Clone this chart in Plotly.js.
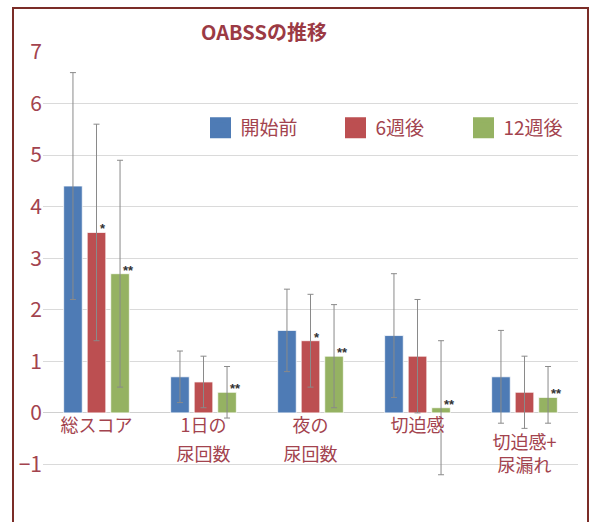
<!DOCTYPE html>
<html><head><meta charset="utf-8">
<script src="https://cdn.plot.ly/plotly-3.0.1.min.js"></script>
<style>html,body{margin:0;padding:0;background:#fff}#chart{width:596px;height:522px}</style>
</head><body><div id="chart"></div>
<script>
// ---- data ----
const categories = ['総スコア', '1日の尿回数', '夜の尿回数', '切迫感', '切迫感+尿漏れ'];
const labelLine1 = ['総スコア', '1日の', '夜の', '切迫感', ''];
const labelLine2 = ['', '尿回数', '尿回数', '', ''];
const labelStaggered = ['', '', '', '', '切迫感+<br>尿漏れ'];
const seriesNames = ['開始前', '6週後', '12週後'];
const baseline = [4.4, 0.7, 1.6, 1.5, 0.7];
const week6 = [3.5, 0.6, 1.4, 1.1, 0.4];
const week12 = [2.7, 0.4, 1.1, 0.1, 0.3];
const baselineErrPlus = [2.2, 0.5, 0.8, 1.2, 0.9];
const baselineErrMinus = [2.2, 0.5, 0.8, 1.2, 0.9];
const week6ErrPlus = [2.1, 0.5, 0.9, 1.1, 0.7];
const week6ErrMinus = [2.1, 0.5, 0.9, 1.1, 0.7];
const week12ErrPlus = [2.2, 0.5, 1.0, 1.3, 0.6];
const week12ErrMinus = [2.2, 0.5, 1.0, 1.3, 0.5];
const baselineSig = ['', '', '', '', ''];
const week6Sig = ['*', '', '*', '', ''];
const week12Sig = ['**', '**', '**', '**', '**'];
const yTickVals = [-2, -1, 0, 1, 2, 3, 4, 5, 6, 7];
const yTickText = ['', '−1', '0', '1', '2', '3', '4', '5', '6', '7'];

// ---- style ----
const W = 596, H = 522;
const M = {l: 43, r: 18, t: 52, b: 6};
const plotW = W - M.l - M.r, plotH = H - M.t - M.b;
const yMin = -2, yMax = 7;
const colors = ['#4e7bb5', '#bc4f51', '#95b262'];
const labelColor = '#a3434e';
const jp = '"Noto Sans CJK JP", sans-serif';
const tickFamily = '"Liberation Sans Narrow", "Noto Sans CJK JP", sans-serif';
const bargap = 0.34, bargroupgap = 0.21;

const values = [baseline, week6, week12];
const errPlus = [baselineErrPlus, week6ErrPlus, week12ErrPlus];
const errMinus = [baselineErrMinus, week6ErrMinus, week12ErrMinus];
const sigs = [baselineSig, week6Sig, week12Sig];

const traces = [];
values.forEach((vals, i) => {
  traces.push({
    type: 'bar', x: categories, y: vals, name: seriesNames[i], showlegend: false,
    marker: {color: colors[i], line: {color: 'rgba(255,255,255,0.75)', width: 1}},
    error_y: {type: 'data', symmetric: false, array: errPlus[i], arrayminus: errMinus[i],
              color: '#8a8a8a', thickness: 1, width: 3},
    hoverinfo: 'skip'
  });
});
// legend entries
const legendWidths = [90, 83, 64];
values.forEach((vals, i) => {
  traces.push({
    type: 'scatter', mode: 'markers', x: [null], y: [null], name: seriesNames[i],
    legendwidth: legendWidths[i],
    marker: {symbol: 'square', size: 16, color: colors[i], line: {color: colors[i], width: 5}},
    hoverinfo: 'skip', showlegend: true
  });
});
// empty carriers so that the extra label axes are drawn
['x2', 'x3'].forEach(ax => {
  traces.push({type: 'scatter', mode: 'markers', x: [null], y: [null], xaxis: ax, yaxis: 'y',
               showlegend: false, hoverinfo: 'skip'});
});

// significance marks
const catW = plotW / categories.length;
const slot = catW * (1 - bargap) / 3;
const annotations = [];
sigs.forEach((arr, i) => {
  arr.forEach((s, j) => {
    if (!s) return;
    annotations.push({
      x: categories[j], y: values[i][j], xref: 'x', yref: 'y', text: s, showarrow: false,
      xanchor: 'left', yanchor: 'bottom', xshift: (i - 1) * slot + 1, yshift: -6,
      font: {family: '"Liberation Sans", sans-serif', size: 13, color: '#333', weight: 'bold'}
    });
  });
});

const px2x = p => (p - M.l) / plotW;
const px2y = p => (H - M.b - p) / plotH;
const zeroPos = (0 - yMin) / (yMax - yMin);
const catIdx = categories.map((c, i) => i);
const labelAxis = (ticktext, drop) => ({
  type: 'linear', overlaying: 'x', anchor: 'free', position: zeroPos - drop / plotH,
  range: [-0.5, categories.length - 0.5], tickmode: 'array', tickvals: catIdx, ticktext: ticktext,
  showgrid: false, showline: false, zeroline: false, ticks: '',
  tickfont: {family: jp, size: 18, color: labelColor}, fixedrange: true
});

const layout = {
  width: W, height: H, margin: M,
  paper_bgcolor: '#fff', plot_bgcolor: '#fff',
  barmode: 'group', bargap: bargap, bargroupgap: bargroupgap,
  title: {text: 'OABSSの推移', font: {family: jp, size: 20, color: '#9b3a44', weight: 'bold'},
          x: px2x(264), xref: 'paper', xanchor: 'center', y: 1 - 33 / H, yref: 'container', yanchor: 'middle'},
  showlegend: true,
  legend: {orientation: 'h', x: px2x(200.5), xanchor: 'left', y: px2y(128), yanchor: 'middle',
           font: {family: jp, size: 19, color: labelColor}, bgcolor: 'rgba(0,0,0,0)',
           borderwidth: 0, itemclick: false, itemdoubleclick: false},
  xaxis: {type: 'category', anchor: 'free', position: zeroPos,
          range: [-0.5, categories.length - 0.5], tickmode: 'array', tickvals: categories, ticktext: labelLine1,
          showgrid: false, showline: false, zeroline: false,
          ticks: '', tickfont: {family: jp, size: 18, color: labelColor}, fixedrange: true},
  xaxis2: labelAxis(labelLine2, 29),
  xaxis3: labelAxis(labelStaggered, 17),
  yaxis: {range: [yMin, yMax], tickvals: yTickVals, ticktext: yTickText, showline: false, ticks: '',
          gridcolor: '#dadada', gridwidth: 1, zeroline: true, zerolinecolor: '#d0d0d0', zerolinewidth: 1,
          tickfont: {family: tickFamily, size: 21, color: labelColor}, fixedrange: true},
  annotations: annotations,
  shapes: [{type: 'rect', xref: 'paper', yref: 'paper', layer: 'above',
            x0: px2x(13), x1: px2x(588), y0: px2y(540), y1: px2y(8),
            line: {color: '#7b2d28', width: 2}, fillcolor: 'rgba(0,0,0,0)'}]
};

Plotly.newPlot('chart', traces, layout, {staticPlot: true, displayModeBar: false});
</script>
</body></html>
